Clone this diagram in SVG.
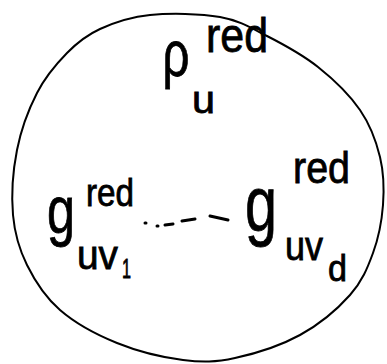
<svg xmlns="http://www.w3.org/2000/svg" width="387" height="364" viewBox="0 0 387 364">
<style>
.t{font-family:"Liberation Sans","DejaVu Sans",sans-serif;fill:#000;stroke:#000;stroke-width:0.8}
.ln{fill:none;stroke:#000;stroke-linecap:round}
</style>
<rect width="387" height="364" fill="#fff"/>
<g id="outline">
<path class="ln" stroke-width="2" d="M150,15 C170,13 200.5,13.5 220,17 C239.5,20.5 250.7,27.7 267,36 C283.3,44.3 302.5,54.7 318,67 C333.5,79.3 349.7,95 360,110 C370.3,125 376.2,141.2 380,157 C383.8,172.8 384.2,189 383,205 C381.8,221 378.5,238 373,253 C367.5,268 362.2,281.3 350,295 C337.8,308.7 319.2,324.5 300,335 C280.8,345.5 254.5,353.8 235,358 C215.5,362.2 202.7,362.5 183,360 C163.3,357.5 137.5,351.3 117,343 C96.5,334.7 75,323 60,310 C45,297 34.8,280.8 27,265 C19.2,249.2 14.7,234.2 13,215 C11.3,195.8 13,170.3 17,150 C21,129.7 28.7,109.2 37,93 C45.3,76.8 56.5,63.7 67,53 C77.5,42.3 86.2,35.3 100,29 C113.8,22.7 130,17 150,15 Z"/>
</g>
<g id="rho">
<text class="t" x="176" y="76" font-size="64" text-anchor="middle" textLength="27" lengthAdjust="spacingAndGlyphs">ρ</text>
<text class="t" x="206" y="52" font-size="48" textLength="62" lengthAdjust="spacingAndGlyphs">red</text>
<text class="t" x="192" y="113" font-size="38" textLength="23" lengthAdjust="spacingAndGlyphs">u</text>
</g>
<g id="g1">
<text class="t" x="61" y="233" font-size="66" text-anchor="middle" textLength="28" lengthAdjust="spacingAndGlyphs">g</text>
<text class="t" x="86" y="206" font-size="38" textLength="48" lengthAdjust="spacingAndGlyphs">red</text>
<text class="t" x="77" y="269" font-size="40" textLength="41" lengthAdjust="spacingAndGlyphs">uv</text>
<text class="t" x="122" y="278" font-size="28" textLength="9" lengthAdjust="spacingAndGlyphs">1</text>
</g>
<g id="dots">
<path class="ln" stroke-width="3" d="M145,223 L146,223 M157,226 L158,226 M165,225 L173,224 M182,221 L195,219 M210,216 L228,220"/>
</g>
<g id="gd">
<text class="t" x="261" y="231" font-size="78" text-anchor="middle" textLength="32" lengthAdjust="spacingAndGlyphs">g</text>
<text class="t" x="293" y="183" font-size="44" textLength="57" lengthAdjust="spacingAndGlyphs">red</text>
<text class="t" x="285" y="260" font-size="40" textLength="38" lengthAdjust="spacingAndGlyphs">uv</text>
<text class="t" x="328" y="281" font-size="36" textLength="19" lengthAdjust="spacingAndGlyphs">d</text>
</g>
</svg>
